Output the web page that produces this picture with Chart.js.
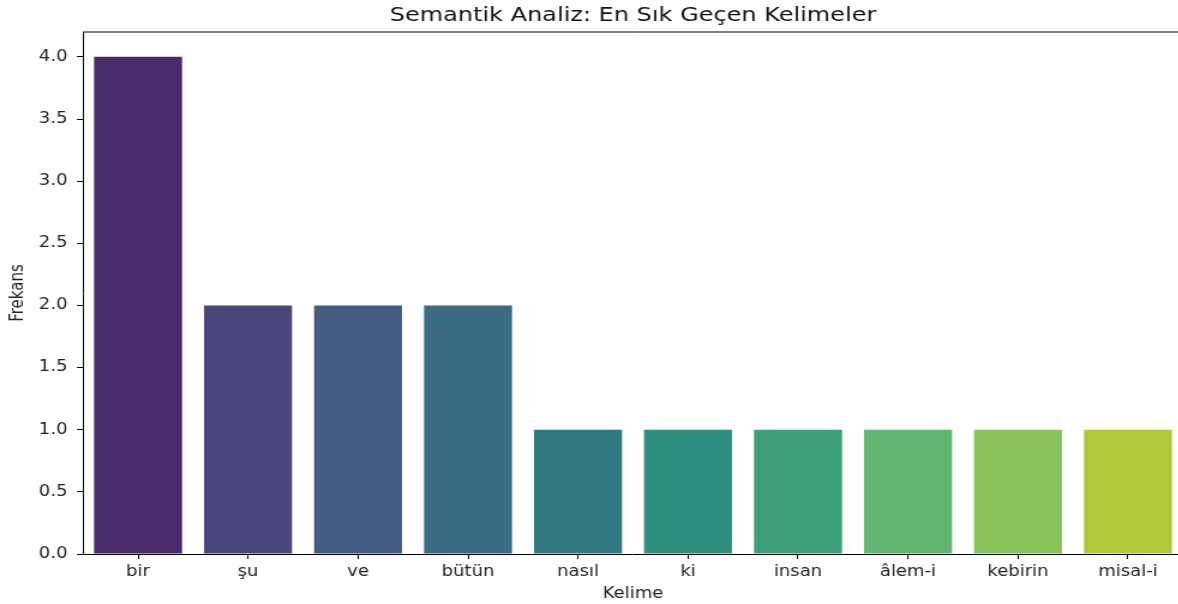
<!DOCTYPE html>
<html>
<head>
<meta charset="utf-8">
<script src="https://cdn.jsdelivr.net/npm/chart.js@4.4.0/dist/chart.umd.min.js"></script>
<style>
  html, body { margin: 0; padding: 0; background: #fff; overflow: hidden; }
  /* the reference figure is stretched sideways, so draw narrow and widen it */
  #wrap { transform: scaleX(1.2); transform-origin: 0 0; width: 992px; }
  canvas { display: block; }
</style>
</head>
<body>
<div id="wrap"><canvas id="barChart" width="992" height="604"></canvas></div>
<script>
const words = ["bir", "şu", "ve", "bütün", "nasıl", "ki", "insan", "âlem-i", "kebirin", "misal-i"];
const counts = [4, 2, 2, 2, 1, 1, 1, 1, 1, 1];
const yTicks = [0, 0.5, 1.0, 1.5, 2.0, 2.5, 3.0, 3.5, 4.0];
const barColors = [
  "#482b69", "#4a477c", "#435b82", "#3a6b82", "#327a81",
  "#2f8f7e", "#3ea07a", "#61b771", "#88c45b", "#b2c83a",
];
const titleText = "Semantik Analiz: En Sık Geçen Kelimeler";

// top/right spines + title centred over the axes
const framePlugin = {
  id: "frame",
  afterDraw(chart) {
    const { ctx, chartArea } = chart;
    ctx.save();
    ctx.strokeStyle = "#000";
    ctx.lineWidth = 1;
    ctx.beginPath();
    ctx.moveTo(chartArea.left, chartArea.top);
    ctx.lineTo(chartArea.right, chartArea.top);
    ctx.lineTo(chartArea.right, chartArea.bottom);
    ctx.stroke();
    ctx.fillStyle = "#111";
    ctx.font = "20px 'DejaVu Sans'";
    ctx.textAlign = "center";
    ctx.textBaseline = "middle";
    ctx.fillText(titleText, (chartArea.left + chartArea.right) / 2, 16);
    ctx.restore();
  },
};

var ctx = document.getElementById("barChart").getContext("2d");
var barChart = new Chart(ctx, {
  type: "bar",
  data: {
    labels: words,
    datasets: [
      {
        label: "Frekans",
        data: counts,
        backgroundColor: barColors,
        borderWidth: 0,
        categoryPercentage: 1.0,
        barPercentage: 0.8,
      },
    ],
  },
  options: {
    responsive: false,
    animation: false,
    layout: { padding: { top: 32, left: 0, right: 6.2, bottom: 0 } },
    plugins: {
      legend: { display: false },
      tooltip: { enabled: false },
    },
    scales: {
      x: {
        grid: {
          offset: false,
          drawOnChartArea: false,
          drawTicks: true,
          tickLength: 5,
          tickColor: "#000",
        },
        border: { display: true, color: "#000", width: 1 },
        ticks: {
          color: "#222",
          padding: 4,
          font: { family: "DejaVu Sans", size: 15 },
          maxRotation: 0,
        },
        title: {
          display: true,
          text: "Kelime",
          color: "#222",
          font: { family: "DejaVu Sans", size: 15 },
          padding: { top: 0, bottom: 1 },
        },
        afterFit(scale) {
          scale.height = 50;
        },
      },
      y: {
        min: 0,
        max: 4.2,
        afterBuildTicks(scale) {
          scale.ticks = yTicks.map((v) => ({ value: v }));
        },
        grid: {
          drawOnChartArea: false,
          drawTicks: true,
          tickLength: 5,
          tickColor: "#000",
        },
        border: { display: true, color: "#000", width: 1 },
        ticks: {
          color: "#222",
          padding: 8,
          font: { family: "DejaVu Sans", size: 15 },
          callback: (v) => Number(v).toFixed(1),
        },
        title: {
          display: true,
          text: "Frekans",
          color: "#222",
          font: { family: "DejaVu Sans", size: 15 },
          padding: { top: 6, bottom: 0 },
        },
        afterFit(scale) {
          scale.width = 69.2;
        },
      },
    },
  },
  plugins: [framePlugin],
});
</script>
</body>
</html>
